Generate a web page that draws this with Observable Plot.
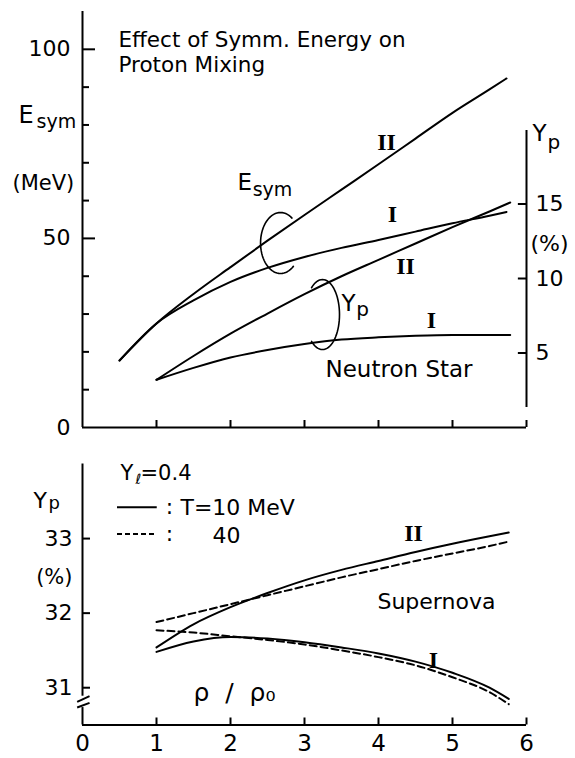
<!DOCTYPE html>
<html>
<head>
<meta charset="utf-8">
<script src="https://cdn.jsdelivr.net/npm/d3@7"></script>
<script src="https://cdn.jsdelivr.net/npm/@observablehq/plot@0.6"></script>
<style>
  body { margin: 0; background: #fff; }
  #fig { position: relative; width: 575px; height: 758px; background: #fff; }
  #fig svg { position: absolute; left: 0; }
</style>
</head>
<body>
<div id="fig"></div>
<script>
// ---- Neutron star: symmetry energy (MeV) vs density rho/rho0, models I and II
const rhoEsym = [0.5, 1, 1.5, 2, 2.5, 3, 3.5, 4, 4.5, 5, 5.5, 5.73];
const esymI   = [17.7, 27.5, 33.6, 38.5, 42.2, 45.1, 47.5, 49.6, 51.8, 54.0, 56.0, 57.0];
const esymII  = [17.7, 27.5, 35.3, 42.4, 49.4, 56.2, 62.9, 69.6, 76.4, 83.2, 89.4, 92.3];

// ---- Neutron star: proton fraction Yp (%)
const rhoYpNS = [1, 1.5, 2, 2.5, 3, 3.5, 4, 4.5, 5, 5.5, 5.78];
const ypNS_I  = [3.2, 4.0, 4.7, 5.2, 5.6, 5.9, 6.05, 6.15, 6.2, 6.2, 6.2];
const ypNS_II = [3.2, 4.8, 6.3, 7.65, 8.95, 10.15, 11.25, 12.35, 13.45, 14.5, 15.1];

// ---- Supernova (Y_l = 0.4): proton fraction Yp (%) at T = 10 and 40 MeV
const rhoSN      = [1, 1.5, 2, 2.5, 3, 3.5, 4, 4.5, 5, 5.5, 5.76];
const ypSN_I_10  = [31.48, 31.62, 31.68, 31.66, 31.61, 31.54, 31.46, 31.35, 31.2, 31.0, 30.85];
const ypSN_I_40  = [31.77, 31.74, 31.69, 31.64, 31.58, 31.5, 31.41, 31.3, 31.14, 30.94, 30.78];
const ypSN_II_10 = [31.54, 31.85, 32.08, 32.27, 32.44, 32.58, 32.7, 32.82, 32.93, 33.03, 33.08];
const ypSN_II_40 = [31.88, 32.0, 32.12, 32.24, 32.36, 32.48, 32.59, 32.7, 32.8, 32.9, 32.96];

// ---- tick values
const rhoTicks   = [0, 1, 2, 3, 4, 5, 6];
const esymTicks  = [0, 50, 100];
const esymMinor  = [10, 20, 30, 40, 60, 70, 80, 90];
const ypNSTicks  = [5, 10, 15];
const ypSNTicks  = [31, 32, 33];

const W = 575;
const SANS = "DejaVu Sans";
const SERIF = "Liberation Serif";
const baseStyle = { background: "transparent", fontFamily: SANS, overflow: "visible", color: "black" };

const rows = (xs, ys) => xs.map((x, i) => ({ x, y: ys[i] }));

// elliptic bracket grouping a pair of curves (angles in degrees, screen orientation)
function arc(cx, cy, rx, ry, a0, a1) {
  const pts = [];
  for (let a = a0; a <= a1; a += 5) {
    const t = a * Math.PI / 180;
    pts.push({ x: cx + rx * Math.cos(t), y: cy - ry * Math.sin(t) });
  }
  return pts;
}

const label = (s, x, y, o = {}) =>
  Plot.text([s], { x, y, fontSize: 22, textAnchor: "start", lineAnchor: "bottom", fill: "black", ...o });
const roman = (s, x, y) =>
  Plot.text([s], { x, y, fontSize: 24, fontFamily: SERIF, fontWeight: "bold", textAnchor: "middle", lineAnchor: "middle", fill: "black" });

const curve = (xs, ys, o = {}) =>
  Plot.line(rows(xs, ys), { x: "x", y: "y", curve: "monotone-x", stroke: "black", strokeWidth: 2, ...o });

// ===== upper panel, left scale: E_sym (MeV)
const upperE = Plot.plot({
  width: W, height: 440,
  marginLeft: 82, marginRight: 49, marginTop: 11, marginBottom: 13,
  x: { domain: [0, 6], axis: null },
  y: { domain: [0, 110], axis: null },
  style: baseStyle,
  marks: [
    Plot.ruleX([0], { y1: 0, y2: 110, strokeWidth: 2 }),
    Plot.ruleY([0], { x1: 0, x2: 6, strokeWidth: 2 }),
    Plot.ruleY(esymMinor, { x1: 0, x2: 0.095, strokeWidth: 2 }),
    Plot.ruleY(esymTicks.filter(d => d > 0), { x1: 0, x2: 0.176, strokeWidth: 2 }),
    Plot.ruleX(rhoTicks.filter(d => d > 0), { y1: 0, y2: 1.85, strokeWidth: 2 }),
    Plot.text(esymTicks, { x: 0, y: d => d, dx: -12, textAnchor: "end", fontSize: 22, text: d => String(d) }),

    label("Effect of Symm. Energy on", 0.486, 100.5, { fontSize: 21.5 }),
    label("Proton Mixing", 0.486, 93.9, { fontSize: 21.5 }),
    label("E", 0, 80.4, { dx: -64, fontSize: 24 }),
    label("sym", 0, 79.3, { dx: -46, fontSize: 19 }),
    label("(MeV)", 0, 62.7, { dx: -70, fontSize: 21 }),

    curve(rhoEsym, esymI),
    curve(rhoEsym, esymII),
    Plot.line(arc(2.676, 48.78, 0.27, 8.06, 50, 305), { x: "x", y: "y", strokeWidth: 1.6 }),
    label("E", 2.095, 62.7, { fontSize: 23 }),
    label("sym", 2.3, 61.1, { fontSize: 19 }),
    roman("II", 4.108, 75.36),
    roman("I", 4.189, 56.3)
  ]
});

// ===== upper panel, right scale: Yp (%) of neutron star matter
const upperYp = Plot.plot({
  width: W, height: 440,
  marginLeft: 82, marginRight: 49, marginTop: 11, marginBottom: 13,
  x: { domain: [0, 6], axis: null },
  y: { domain: [0, 27.92], axis: null },
  style: baseStyle,
  marks: [
    Plot.ruleX([6], { y1: 1.34, y2: 19.93, strokeWidth: 2 }),
    Plot.ruleY(ypNSTicks, { x1: 5.89, x2: 6, strokeWidth: 2 }),
    Plot.text(ypNSTicks, { x: 6, y: d => d, dx: 9, textAnchor: "start", fontSize: 22, text: d => String(d) }),
    label("(%)", 6, 12.3, { dx: 4, lineAnchor: "middle", fontSize: 22 }),
    label("Y", 6, 19.26, { dx: 6, fontSize: 23 }),
    label("p", 6, 18.72, { dx: 21, fontSize: 20 }),

    curve(rhoYpNS, ypNS_I),
    curve(rhoYpNS, ypNS_II),
    Plot.line(arc(3.243, 7.58, 0.23, 2.35, -130, 130), { x: "x", y: "y", strokeWidth: 1.6 }),
    label("Y", 3.5, 7.85, { fontSize: 23 }),
    label("p", 3.7, 7.45, { fontSize: 20 }),
    roman("II", 4.365, 10.8),
    roman("I", 4.716, 7.18),
    label("Neutron Star", 3.284, 3.36, { fontSize: 23 })
  ]
});

// ===== lower panel: supernova matter
const lower = Plot.plot({
  width: W, height: 318,
  marginLeft: 82, marginRight: 49, marginTop: 23.5, marginBottom: 33.5,
  x: { domain: [0, 6], axis: null },
  y: { domain: [30.5, 34], axis: null },
  style: baseStyle,
  marks: [
    // broken y axis
    Plot.ruleX([0], { y1: 30.886, y2: 34, strokeWidth: 2 }),
    Plot.ruleX([0], { y1: 30.5, y2: 30.734, strokeWidth: 2 }),
    Plot.link([[30.81, 30.886], [30.734, 30.796]], { x1: -0.072, x2: 0.095, y1: d => d[0], y2: d => d[1], strokeWidth: 2 }),
    Plot.ruleY([30.5], { x1: 0, x2: 6, strokeWidth: 2 }),
    Plot.ruleX(rhoTicks.filter(d => d > 0), { y1: 30.5, y2: 30.594, strokeWidth: 2 }),
    Plot.ruleY(ypSNTicks, { x1: 0, x2: 0.108, strokeWidth: 2 }),
    Plot.text(ypSNTicks, { x: 0, y: d => d, dx: -10, textAnchor: "end", fontSize: 22, text: d => String(d) }),
    Plot.text(rhoTicks, { x: d => d, y: 30.5, dy: 10, lineAnchor: "top", fontSize: 23, text: d => String(d) }),

    label("Y", 0, 33.41, { dx: -49, fontSize: 22 }),
    label("p", 0, 33.396, { dx: -34, fontSize: 18 }),
    label("(%)", 0, 32.48, { dx: -10, textAnchor: "end", lineAnchor: "middle", fontSize: 21 }),

    // legend
    label("Y", 0.514, 33.785, { fontSize: 21 }),
    label("ℓ", 0.716, 33.73, { fontSize: 14 }),
    label("=0.4", 0.784, 33.785, { fontSize: 21 }),
    Plot.ruleY([33.42], { x1: 0.473, x2: 1.01, strokeWidth: 2 }),
    Plot.ruleY([33.06], { x1: 0.473, x2: 1.01, strokeWidth: 2, strokeDasharray: "5,3" }),
    label(":", 1.176, 33.42, { textAnchor: "middle", lineAnchor: "middle", fontSize: 22 }),
    label(":", 1.176, 33.06, { textAnchor: "middle", lineAnchor: "middle", fontSize: 22 }),
    label("T=10 MeV", 1.324, 33.315, { fontSize: 22 }),
    label("40", 1.757, 32.94, { fontSize: 22 }),

    curve(rhoSN, ypSN_I_10),
    curve(rhoSN, ypSN_I_40, { strokeDasharray: "7,4" }),
    curve(rhoSN, ypSN_II_10),
    curve(rhoSN, ypSN_II_40, { strokeDasharray: "7,4" }),
    roman("II", 4.473, 33.074),
    roman("I", 4.743, 31.369),
    label("Supernova", 3.986, 32.054, { fontSize: 22 }),
    label("ρ\u00a0\u00a0/\u00a0\u00a0ρ₀", 1.5, 30.82, { fontSize: 25 })
  ]
});

const fig = document.getElementById("fig");
[[upperE, 0], [upperYp, 0], [lower, 440]].forEach(([svg, top]) => {
  svg.style.top = top + "px";
  fig.appendChild(svg);
});
</script>
</body>
</html>
